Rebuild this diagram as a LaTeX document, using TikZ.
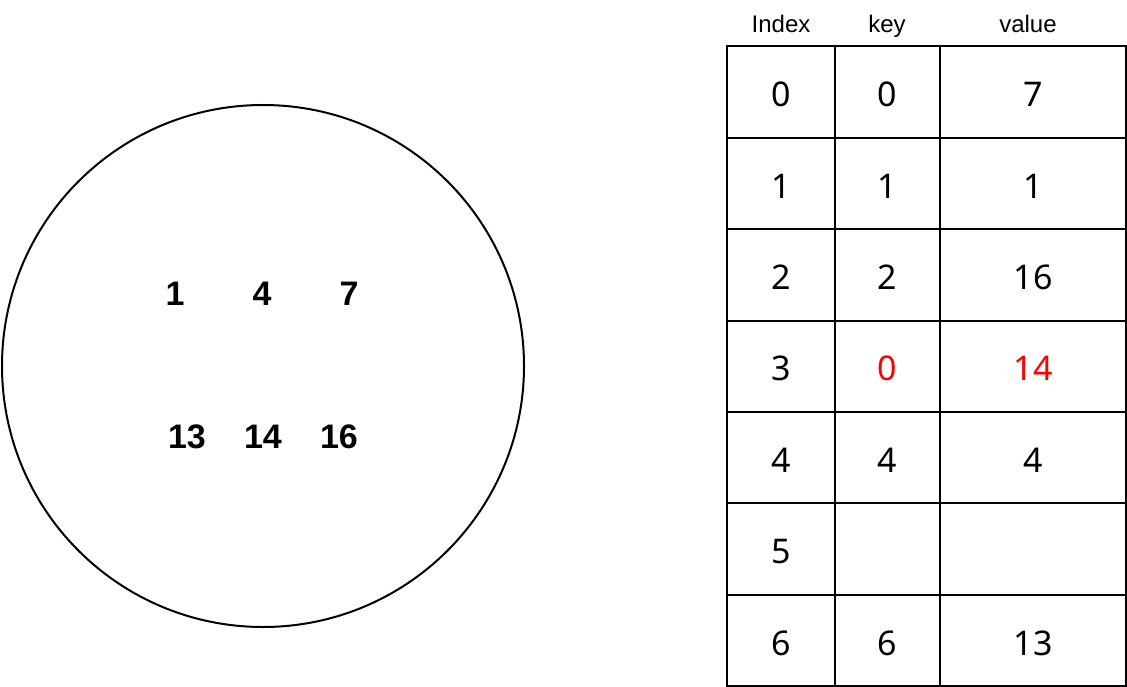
\documentclass[tikz,border=0pt]{standalone}
\usepackage{fontspec}
\setmainfont{Liberation Sans}
\newfontfamily\cellfont{Noto Sans}

\begin{document}
\begin{tikzpicture}[x=1pt,y=-1pt,line width=2pt,
    cell/.style={draw,inner sep=0pt,minimum height=91.4pt,text height=29.4pt,text depth=0pt,font=\cellfont\fontsize{34}{34}\selectfont},
    head node/.style={anchor=base,font=\fontsize{24}{24}\selectfont},
    num node/.style={font=\bfseries\fontsize{34}{34}\selectfont}]
            \useasboundingbox (0,0) rectangle (1127,687);

            % the set of values
            \node[circle,draw,minimum size=522pt,inner sep=0pt] (pool) at (263,366) {};
            \node[num node] (n1) at (175,294) {1};
            \node[num node] (n4) at (262,294) {4};
            \node[num node] (n7) at (349,294) {7};
            \node[num node] (n13) at (187,437) {13};
            \node[num node] (n14) at (263,437) {14};
            \node[num node] (n16) at (339,437) {16};

            % the table
            \node[head node] (hi) at (781,33) {Index};
            \node[head node] (hk) at (887,33) {key};
            \node[head node] (hv) at (1028,33) {value};

            \foreach \r/\k/\v/\c in {0/0/7/black,1/1/1/black,2/2/16/black,3/0/14/red,4/4/4/black,5/{}/{}/black,6/6/13/black}{
                \node[cell,minimum width=108pt] (i\r) at (781,92+91.4*\r) {\r};
                \node[cell,minimum width=105pt,text=\c] (k\r) at (887.5,92+91.4*\r) {\k};
                \node[cell,minimum width=186pt,text=\c] (v\r) at (1033,92+91.4*\r) {\v};
            }
\end{tikzpicture}
\end{document}
